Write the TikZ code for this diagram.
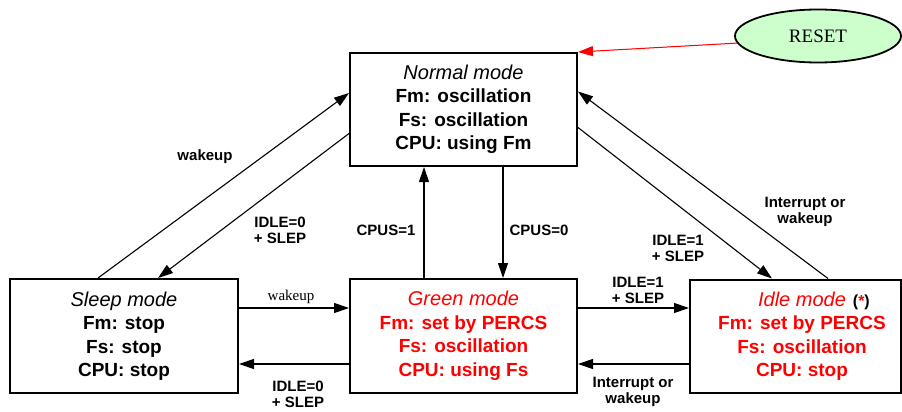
\documentclass[tikz,border=0pt]{standalone}
\usepackage{fontspec}
\setmainfont{Liberation Sans}
\newfontfamily\timesfont{Liberation Serif}
\usetikzlibrary{arrows.meta,shapes.geometric}

\definecolor{resetgreen}{HTML}{CCFFCC}

\newcommand{\modetitle}[1]{{\mdseries\itshape\fontsize{20}{23.5}\selectfont #1}}

\tikzset{
  mode/.style={draw=black, line width=2pt, align=center, inner sep=0pt,
    font=\fontsize{19}{23.5}\selectfont\bfseries},
  arr/.style={line width=1.1pt, -{Triangle[length=15pt,width=10pt]}},
  lbl/.style={align=center, inner sep=0pt, font=\fontsize{15}{16}\selectfont\bfseries},
}

\begin{document}
\begin{tikzpicture}[x=1pt,y=-1pt]
      \useasboundingbox (0,0) rectangle (902,412);

      \node[mode, minimum width=227pt, minimum height=113pt](normal) at (463.5,109.5)
        {\modetitle{Normal mode}\\Fm: oscillation\\Fs: oscillation\\CPU: using Fm};
      \node[mode, minimum width=228pt, minimum height=114pt](sleep) at (124,336)
        {\modetitle{Sleep mode}\\Fm: stop\\Fs: stop\\CPU: stop};
      \node[mode, text=red, minimum width=227pt, minimum height=114pt](green) at (463.5,336)
        {\modetitle{Green mode}\\Fm: set by PERCS\\Fs: oscillation\\CPU: using Fs};
      \node[mode, text=red, minimum width=211pt, minimum height=113pt](idle) at (795.5,336)
        {\hspace*{13pt}\modetitle{Idle mode}\rlap{\hspace{7pt}\fontsize{16}{16}\selectfont\textcolor{black}{(}\textcolor{red}{*}\textcolor{black}{)}}\\
         \hspace*{13pt}Fm: set by PERCS\\\hspace*{13pt}Fs: oscillation\\\hspace*{13pt}CPU: stop};
      \node[ellipse, draw=black, line width=1.8pt, fill=resetgreen, minimum width=166pt, minimum height=53pt,
        font=\timesfont\fontsize{19}{20}\selectfont](reset) at (818,36){RESET};

      \draw[arr, draw=red, fill=red, line width=1pt] (reset.185) -- (normal.north east);

      \draw[arr] ([xshift=-26pt]sleep.north) -- ([yshift=16.5pt]normal.west)
        node[lbl](l1) at (205,157){wakeup};
      \draw[arr] ([yshift=-24pt]normal.west) -- ([xshift=34pt]sleep.north)
        node[lbl](l2) at (280,230){IDLE=0\\+ SLEP};
      \draw[arr] ([xshift=-39.5pt]green.north) -- ([xshift=-39.5pt]normal.south)
        node[lbl](l3) at (386,230){CPUS=1};
      \draw[arr] ([xshift=39.5pt]normal.south) -- ([xshift=39.5pt]green.north)
        node[lbl](l4) at (539,230){CPUS=0};
      \draw[arr] ([yshift=-18pt]normal.east) -- ([xshift=-23.5pt]idle.north)
        node[lbl](l5) at (678,248){IDLE=1\\+ SLEP};
      \draw[arr] ([xshift=32.5pt]idle.north) -- ([yshift=18pt]normal.east)
        node[lbl](l6) at (805,212){Interrupt or\\wakeup};

      \draw[arr] ([yshift=28pt]sleep.east) -- ([yshift=28pt]green.west)
        node[font=\timesfont\fontsize{15}{16}\selectfont, inner sep=0pt](l7) at (291,297){wakeup};
      \draw[arr] ([yshift=-28pt]green.west) -- ([yshift=-28pt]sleep.east)
        node[lbl](l8) at (298,394){IDLE=0\\+ SLEP};
      \draw[arr] ([yshift=28pt]green.east) -- ([yshift=28pt]idle.west)
        node[lbl](l9) at (638,290){IDLE=1\\+ SLEP};
      \draw[arr] ([yshift=-28pt]idle.west) -- ([yshift=-28pt]green.east)
        node[lbl](l10) at (633,392){Interrupt or\\wakeup};
    \end{tikzpicture}
\end{document}
